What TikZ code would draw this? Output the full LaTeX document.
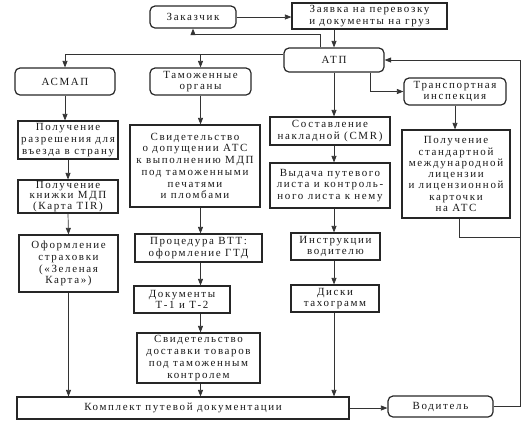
\documentclass[tikz,border=0pt]{standalone}
\usepackage{fontspec}
\setmainfont[LetterSpace=15]{Liberation Serif}
\usetikzlibrary{arrows.meta}
\begin{document}
\begin{tikzpicture}[x=1bp,y=-1bp,
  every node/.style={font=\fontsize{11}{11.8}\selectfont, align=center, inner sep=0pt, text=black!90},
  sbox/.style={draw=black!85, line width=1.2bp},
  rbox/.style={draw=black!85, line width=1.2bp, rounded corners=5bp},
  line/.style={draw=black!80, line width=0.7bp},
  arr/.style={line, -{Triangle[length=6.5bp,width=5bp]}}]
\useasboundingbox (0,0) rectangle (522,426);
% top
\node[rbox, minimum width=86bp, minimum height=22bp] (zak) at (193,17) {Заказчик};
\node[sbox, minimum width=155bp, minimum height=26bp] (zay) at (369.5,16) {Заявка на перевозку\\и документы на груз};
\node[rbox, minimum width=100bp, minimum height=24bp] (atp) at (334,60) {АТП};
\node[rbox, minimum width=100bp, minimum height=27bp] (asmap) at (65,81.5) {АСМАП};
\node[rbox, minimum width=101bp, minimum height=27bp] (tam) at (200.5,81.5) {Таможенные\\органы};
\node[rbox, minimum width=102bp, minimum height=27bp] (ti) at (455,91.5) {Транспортная\\инспекция};
% left column
\node[sbox, minimum width=100bp, minimum height=38bp] (r1) at (68,140) {Получение\\разрешения для\\въезда в страну};
\node[sbox, minimum width=100bp, minimum height=33bp, font=\fontsize{11}{10.6}\selectfont] (r2) at (68,196.5) {Получение\\книжки МДП\\(Карта TIR)};
\node[sbox, minimum width=99bp, minimum height=57bp] (r3) at (68.5,263.5) {Оформление\\страховки\\(«Зеленая\\Карта»)};
% middle column
\node[sbox, minimum width=130bp, minimum height=82bp] (m1) at (195,166) {Свидетельство\\о допущении АТС\\к выполнению МДП\\под таможенными\\печатями\\и пломбами};
\node[sbox, minimum width=127bp, minimum height=28bp] (m2) at (198.5,248) {Процедура ВТТ:\\оформление ГТД};
\node[sbox, minimum width=96bp, minimum height=27bp] (m3) at (182,299.5) {Документы\\Т-1 и Т-2};
\node[sbox, minimum width=123bp, minimum height=50bp] (m4) at (198.5,358) {Свидетельство\\доставки товаров\\под таможенным\\контролем};
% ATP column
\node[sbox, minimum width=120bp, minimum height=28bp] (a1) at (330,131) {Составление\\накладной (CMR)};
\node[sbox, minimum width=120bp, minimum height=45bp] (a2) at (330,185.5) {Выдача путевого\\листа и контроль-\\ного листа к нему};
\node[sbox, minimum width=89bp, minimum height=27bp] (a3) at (335.5,246.5) {Инструкции\\водителю};
\node[sbox, minimum width=88bp, minimum height=27bp] (a4) at (335,298.5) {Диски\\тахограмм};
% right column
\node[sbox, minimum width=108bp, minimum height=88bp, font=\fontsize{11}{11.3}\selectfont] (t1) at (456,174) {Получение\\стандартной\\международной\\лицензии\\и лицензионной\\карточки\\на АТС};
% bottom
\node[sbox, minimum width=332bp, minimum height=22bp] (kom) at (183,408) {Комплект путевой документации};
\node[rbox, minimum width=105bp, minimum height=21bp] (vod) at (440.5,406.5) {Водитель};
\coordinate (br) at ([yshift=6bp]atp.west);
\coordinate (jn) at (520,237);
% connectors
\draw[arr] (zak.east) -- (zak.east -| zay.west);
\draw[arr] (atp.north |- zay.south) -- (atp.north);
\draw[arr] ([xshift=-14bp]atp.north) -- ++(0,-13) -| (zak.south);
\draw[arr] (br) -| (asmap.north);
\draw[arr] (tam.north |- br) -- (tam.north);
\draw[arr] ([xshift=36bp]atp.south) |- (ti.west);
\draw[arr] (vod.east) -- ++(27,0) |- (atp.east);
\draw[line] ([xshift=3bp]t1.south) |- (jn);
\draw[arr] (ti.south) -- (ti.south |- t1.north);
\draw[arr] (asmap.south) -- (asmap.south |- r1.north);
\draw[arr] (r1.south) -- (r2.north);
\draw[arr] (r2.south) -- (r3.north);
\draw[arr] (r3.south) -- (r3.south |- kom.north);
\draw[arr] (tam.south) -- (tam.south |- m1.north);
\draw[arr] (m1.south -| tam.south) -- (m2.north -| tam.south);
\draw[arr] (m2.south -| tam.south) -- (m3.north -| tam.south);
\draw[arr] (m3.south -| tam.south) -- (m4.north -| tam.south);
\draw[arr] (m4.south -| tam.south) -- (kom.north -| tam.south);
\draw[arr] (atp.south) -- (atp.south |- a1.north);
\draw[arr] (a1.south -| atp.south) -- (a2.north -| atp.south);
\draw[arr] (a2.south -| atp.south) -- (a3.north -| atp.south);
\draw[arr] (a3.south -| atp.south) -- (a4.north -| atp.south);
\draw[arr] (a4.south -| atp.south) -- (kom.north -| atp.south);
\draw[arr] (kom.east) -- (kom.east -| vod.west);
\end{tikzpicture}
\end{document}
